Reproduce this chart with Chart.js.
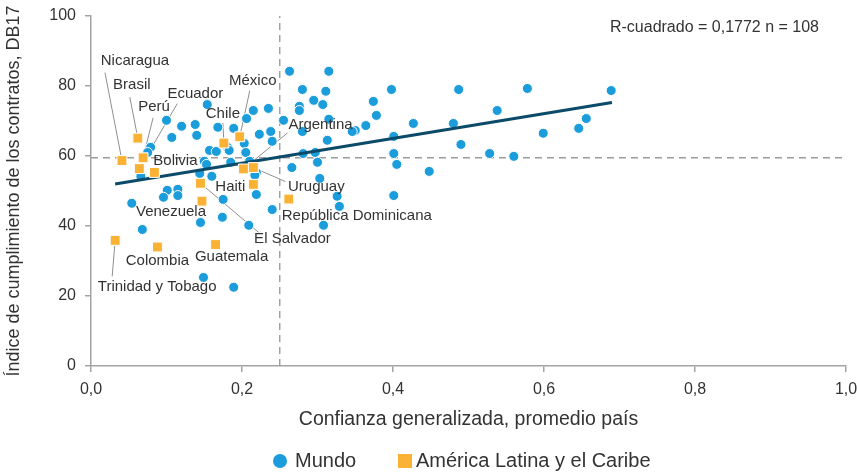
<!DOCTYPE html>
<html>
<head>
<meta charset="utf-8">
<script src="https://cdn.jsdelivr.net/npm/chart.js@4"></script>
<style>
  html, body { margin: 0; padding: 0; background: #fff; }
  #wrap { width: 857px; height: 473px; }
</style>
</head>
<body>
<div id="wrap"><canvas id="chart" width="857" height="473"></canvas></div>
<script>
/* Confianza generalizada vs. cumplimiento de contratos (DB17) */

// Mundo (blue circles)
const mundoX = [0.263,0.315,0.280,0.311,0.295,0.307,0.276,0.276,0.154,0.215,0.235,0.255,0.315,0.100,0.120,0.138,0.168,0.189,0.107,0.140,
  0.206,0.223,0.238,0.240,0.280,0.313,0.281,0.297,0.300,0.079,0.075,0.157,0.166,0.181,0.183,0.203,0.205,0.185,0.210,0.150,
  0.153,0.266,0.066,0.144,0.160,0.219,0.217,0.101,0.115,0.096,0.115,0.054,0.068,0.145,0.174,0.209,0.175,0.219,0.240,0.149,
  0.189,0.303,0.326,0.329,0.308,0.374,0.378,0.398,0.364,0.350,0.346,0.427,0.401,0.401,0.405,0.448,0.401,0.487,0.538,0.480,
  0.490,0.528,0.560,0.578,0.599,0.646,0.656,0.689];
const mundoY = [84.2,84.2,79.0,78.5,75.9,74.7,74.2,73.0,74.7,73.0,73.6,70.2,70.5,70.2,68.5,69.0,68.2,67.9,65.3,65.9,
  70.7,66.2,67.0,64.2,67.0,64.5,60.7,61.0,58.2,62.5,61.0,61.6,61.3,62.5,61.6,63.6,61.0,58.2,58.5,58.5,
  57.6,56.7,54.2,55.0,54.2,55.3,54.5,50.2,50.5,48.2,48.7,46.5,39.0,41.0,42.5,40.2,47.6,49.0,44.7,25.3,
  22.5,53.6,48.5,45.6,40.2,75.6,71.6,79.0,68.7,67.3,67.0,69.3,65.6,60.7,57.6,55.6,48.7,79.0,73.0,69.3,
  63.3,60.7,59.9,79.3,66.5,67.9,70.7,78.7];

// América Latina y el Caribe (orange squares)
const lacNames = ['Nicaragua','Brasil','Perú','Ecuador','Bolivia','Chile','México','Argentina','Uruguay','Haiti',
  'El Salvador','Venezuela','República Dominicana','Trinidad y Tobago','Colombia','Guatemala'];
const lacX = [0.041,0.062,0.069,0.064,0.084,0.176,0.197,0.202,0.215,0.215,0.145,0.147,0.262,0.032,0.088,0.165];
const lacY = [58.7,65.1,59.5,56.4,55.3,63.7,65.5,56.3,56.7,51.9,52.2,47.1,47.7,35.9,34.0,34.7];

// fitted line and reference (mean) lines
const trendX = [0.032, 0.690];
const trendY = [52.0, 75.3];
const meanX = 0.25;
const meanY = 59.5;

const xTicks = [0, 0.2, 0.4, 0.6, 0.8, 1.0];
const xTickLabels = ['0,0','0,2','0,4','0,6','0,8','1,0'];
const yTicks = [0, 20, 40, 60, 80, 100];

const statText = 'R-cuadrado = 0,1772 n = 108';

// label placement: text centre and leader start, in px relative to the point
const labelPos = {
  'Nicaragua': { tx: 13, ty: -100, lx: -17, ly: -88 },
  'Brasil': { tx: -6, ty: -53, lx: -8, ly: -41 },
  'Perú': { tx: 11, ty: -51, lx: 10, ly: -40 },
  'Ecuador': { tx: 56, ty: -75, lx: 38, ly: -65 },
  'Bolivia': { tx: 21, ty: -12 },
  'Chile': { tx: -1, ty: -29, lx: -1, ly: -20 },
  'México': { tx: 13, ty: -56, lx: 10, ly: -46 },
  'Argentina': { tx: 77, ty: -44, lx: 44, ly: -36 },
  'Uruguay': { tx: 63, ty: 19, lx: 32, ly: 14 },
  'Haiti': { tx: -23, ty: 3 },
  'El Salvador': { tx: 92, ty: 56, lx: 58, ly: 49 },
  'Venezuela': { tx: -31, ty: 11 },
  'República Dominicana': { tx: 68, ty: 17 },
  'Trinidad y Tobago': { tx: 42, ty: 47, lx: -3, ly: 36 },
  'Colombia': { tx: 0, ty: 14 },
  'Guatemala': { tx: 16, ty: 12 }
};

const BLUE = '#1b9ddb';
const ORANGE = '#f9b233';
const NAVY = '#0b4a68';
const GREY = '#a3a3a3';
const TXT = '#333333';
const FONT = "'Liberation Sans', Arial, sans-serif";

const toPts = (xs, ys) => xs.map((x, i) => ({ x: x, y: ys[i] }));

const annotate = {
  id: 'annotate',
  beforeDatasetsDraw(chart) {
    const { ctx, scales: { x, y } } = chart;
    ctx.save();
    ctx.strokeStyle = '#8f8f8f';
    ctx.lineWidth = 1;
    lacNames.forEach((n, i) => {
      const p = labelPos[n];
      if (p.lx === undefined) return;
      const px = x.getPixelForValue(lacX[i]), py = y.getPixelForValue(lacY[i]);
      ctx.beginPath();
      ctx.moveTo(px + p.lx, py + p.ly);
      ctx.lineTo(px, py);
      ctx.stroke();
    });
    ctx.restore();
  },
  afterDatasetsDraw(chart) {
    const { ctx, chartArea, scales: { x, y } } = chart;
    ctx.save();
    ctx.fillStyle = TXT;
    ctx.font = '15px ' + FONT;
    ctx.textAlign = 'center';
    ctx.textBaseline = 'middle';
    lacNames.forEach((n, i) => {
      const p = labelPos[n];
      const px = x.getPixelForValue(lacX[i]), py = y.getPixelForValue(lacY[i]);
      ctx.fillText(n, px + p.tx, py + p.ty);
    });
    // R2 note
    ctx.font = '16px ' + FONT;
    ctx.textAlign = 'right';
    ctx.fillText(statText, chartArea.right - 27, chartArea.top + 12);
    // legend
    ctx.font = '20px ' + FONT;
    ctx.textAlign = 'left';
    const ly = 461;
    ctx.fillStyle = BLUE;
    ctx.beginPath(); ctx.arc(280, ly, 7, 0, Math.PI * 2); ctx.fill();
    ctx.fillStyle = TXT;
    ctx.fillText('Mundo', 295, ly);
    ctx.fillStyle = ORANGE;
    ctx.fillRect(398, ly - 7, 14, 14);
    ctx.fillStyle = TXT;
    ctx.fillText('América Latina y el Caribe', 416, ly);
    ctx.restore();
  }
};

new Chart(document.getElementById('chart'), {
  type: 'scatter',
  data: {
    datasets: [
      { type: 'line', data: [{ x: 0, y: meanY }, { x: 1, y: meanY }], borderColor: '#9c9c9c', borderWidth: 1.4, borderDash: [7, 5], pointRadius: 0, order: 6 },
      { type: 'line', data: [{ x: meanX, y: 0 }, { x: meanX, y: 100 }], borderColor: '#9c9c9c', borderWidth: 1.4, borderDash: [7, 5], pointRadius: 0, order: 5 },
      { label: 'Mundo', data: toPts(mundoX, mundoY), backgroundColor: BLUE, borderColor: '#ffffff', borderWidth: 1, pointRadius: 5, order: 4 },
      { type: 'line', data: toPts(trendX, trendY), borderColor: NAVY, borderWidth: 3, pointRadius: 0, order: 3 },
      { label: 'América Latina y el Caribe', data: toPts(lacX, lacY), pointStyle: 'rect', backgroundColor: ORANGE, borderColor: '#ffffff', borderWidth: 1, pointRadius: 7, order: 2 }
    ]
  },
  options: {
    responsive: false,
    animation: false,
    layout: { padding: { left: 0, right: 11, top: 16, bottom: 42 } },
    plugins: { legend: { display: false }, tooltip: { enabled: false } },
    scales: {
      x: {
        type: 'linear', min: 0, max: 1,
        afterBuildTicks: s => { s.ticks = xTicks.map(v => ({ value: v })); },
        afterFit: s => { s.height = 65; s.paddingLeft = 0; s.paddingRight = 0; },
        ticks: { callback: (v) => xTickLabels[xTicks.indexOf(Math.round(v * 10) / 10)], color: TXT, font: { family: FONT, size: 16 }, padding: 8, maxRotation: 0 },
        grid: { drawOnChartArea: false, color: GREY, tickLength: 6, lineWidth: 1.5 },
        border: { color: GREY, width: 1.5 },
        title: { display: true, text: 'Confianza generalizada, promedio país', color: TXT, font: { family: FONT, size: 19.5 }, padding: { top: 0, bottom: 0 } }
      },
      y: {
        type: 'linear', min: 0, max: 100,
        afterBuildTicks: s => { s.ticks = yTicks.map(v => ({ value: v })); },
        afterFit: s => { s.width = 91; s.paddingTop = 0; s.paddingBottom = 0; },
        ticks: { color: TXT, font: { family: FONT, size: 16 }, padding: 9 },
        grid: { drawOnChartArea: false, color: GREY, tickLength: 6, lineWidth: 1.5 },
        border: { color: GREY, width: 1.5 },
        title: { display: true, text: 'Índice de cumplimiento de los contratos, DB17', color: TXT, font: { family: FONT, size: 18 }, padding: { top: 3.5, bottom: 0 } }
      }
    }
  },
  plugins: [annotate]
});
</script>
</body>
</html>
